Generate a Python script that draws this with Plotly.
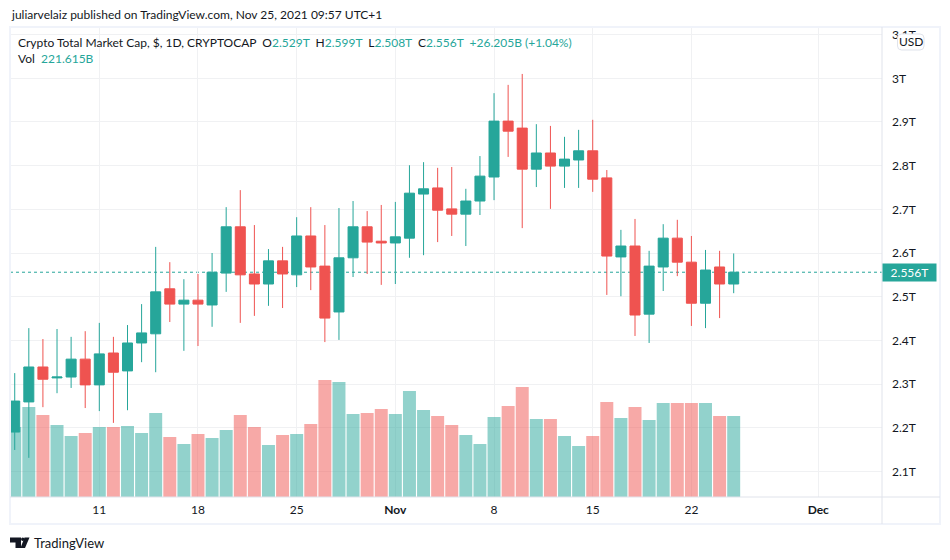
import pandas as pd
import plotly.graph_objects as go

# daily candles, Oct 5 - Nov 25 2021, in trillions USD
dates = pd.date_range("2021-10-05", "2021-11-25", freq="D")
opens = [2.190, 2.259, 2.339, 2.314, 2.316, 2.357, 2.298, 2.371, 2.330, 2.394, 2.415, 2.518, 2.483,
         2.492, 2.481, 2.554, 2.660, 2.552, 2.529, 2.582, 2.550, 2.639, 2.570, 2.465, 2.589, 2.660,
         2.627, 2.623, 2.634, 2.735, 2.749, 2.701, 2.689, 2.719, 2.774, 2.902, 2.886, 2.792, 2.829,
         2.799, 2.813, 2.834, 2.772, 2.591, 2.616, 2.460, 2.568, 2.634, 2.579, 2.485, 2.568, 2.529]
highs = [2.325, 2.428, 2.403, 2.426, 2.408, 2.421, 2.440, 2.408, 2.435, 2.483, 2.614, 2.579, 2.540,
         2.552, 2.600, 2.705, 2.744, 2.664, 2.609, 2.614, 2.682, 2.705, 2.664, 2.703, 2.719, 2.696,
         2.710, 2.717, 2.801, 2.808, 2.795, 2.797, 2.747, 2.822, 2.966, 2.985, 3.010, 2.895, 2.891,
         2.866, 2.882, 2.905, 2.790, 2.653, 2.678, 2.605, 2.666, 2.676, 2.639, 2.607, 2.605, 2.599]
lows = [2.149, 2.131, 2.247, 2.279, 2.291, 2.245, 2.238, 2.211, 2.240, 2.350, 2.327, 2.442, 2.376,
        2.387, 2.431, 2.511, 2.440, 2.456, 2.479, 2.474, 2.522, 2.515, 2.396, 2.401, 2.545, 2.552,
        2.527, 2.529, 2.589, 2.595, 2.625, 2.639, 2.616, 2.687, 2.721, 2.820, 2.657, 2.751, 2.701,
        2.749, 2.749, 2.740, 2.504, 2.501, 2.410, 2.394, 2.513, 2.547, 2.433, 2.428, 2.451, 2.508]
closes = [2.261, 2.339, 2.311, 2.316, 2.357, 2.298, 2.369, 2.327, 2.394, 2.417, 2.511, 2.483, 2.492,
          2.483, 2.556, 2.660, 2.550, 2.529, 2.582, 2.552, 2.639, 2.568, 2.451, 2.589, 2.660, 2.625,
          2.623, 2.637, 2.737, 2.747, 2.698, 2.689, 2.719, 2.776, 2.902, 2.879, 2.792, 2.829, 2.799,
          2.815, 2.834, 2.769, 2.593, 2.616, 2.458, 2.570, 2.634, 2.579, 2.485, 2.561, 2.529, 2.556]
volumes = [191.5, 246.2, 224.4, 197.0, 166.9, 175.1, 191.5, 191.5, 194.3, 175.1, 229.8, 164.2, 145.0,
           172.4, 161.4, 183.3, 224.4, 191.5, 142.3, 169.6, 172.4, 199.7, 320.1, 314.6, 227.1, 229.8,
           240.8, 227.1, 290.0, 238.0, 221.6, 197.0, 169.6, 145.0, 218.9, 249.0, 301.0, 213.4, 213.4,
           166.9, 139.5, 166.9, 259.9, 216.1, 246.2, 210.7, 257.2, 257.2, 257.2, 257.2, 221.6, 221.615]

price_ticks = [2.1, 2.2, 2.3, 2.4, 2.5, 2.6, 2.7, 2.8, 2.9, 3.0, 3.1]
price_labels = ["2.1T", "2.2T", "2.3T", "2.4T", "2.5T", "2.6T", "2.7T", "2.8T", "2.9T", "3T", "3.1T"]
date_ticks = ["2021-10-11", "2021-10-18", "2021-10-25", "2021-11-01", "2021-11-08", "2021-11-15",
              "2021-11-22", "2021-12-01"]
date_labels = ["11", "18", "25", "<b>Nov</b>", "8", "15", "22", "<b>Dec</b>"]

UP = "#26a69a"
DOWN = "#ef5350"
UP_VOL = "rgba(38,166,154,0.5)"
DOWN_VOL = "rgba(239,83,80,0.5)"
GRID = "#f0f1f3"
FRAME = "#f0f3fa"
EDGE = "#e0e3eb"
TEXT = "#131722"
FONT = "Lato"

# plot box in pixels of the 950x560 page
LEFT, RIGHT, TOP, BOTTOM = 10, 882, 27, 497


def px(x):
    return (x - LEFT) / (RIGHT - LEFT)


def py(y):
    return (BOTTOM - y) / (BOTTOM - TOP)


def round_box(x0, x1, y0, y1, r):
    # rounded rectangle path, pixel input
    return (
        f"M {px(x0 + r)} {py(y0)} L {px(x1 - r)} {py(y0)} Q {px(x1)} {py(y0)} {px(x1)} {py(y0 + r)} "
        f"L {px(x1)} {py(y1 - r)} Q {px(x1)} {py(y1)} {px(x1 - r)} {py(y1)} "
        f"L {px(x0 + r)} {py(y1)} Q {px(x0)} {py(y1)} {px(x0)} {py(y1 - r)} "
        f"L {px(x0)} {py(y0 + r)} Q {px(x0)} {py(y0)} {px(x0 + r)} {py(y0)} Z"
    )


vol_colors = [UP_VOL if c >= o else DOWN_VOL for o, c in zip(opens, closes)]

fig = go.Figure()

# volume on the base axis so the candles draw on top of it
fig.add_trace(go.Bar(x=dates, y=volumes, marker=dict(color=vol_colors, line_width=0), yaxis="y"))

fig.add_trace(go.Candlestick(
    x=dates, open=opens, high=highs, low=lows, close=closes, yaxis="y2",
    increasing=dict(line=dict(color=UP, width=1), fillcolor=UP),
    decreasing=dict(line=dict(color=DOWN, width=1), fillcolor=DOWN),
    whiskerwidth=0,
))

# header, legend and footer texts
val = lambda s: f'<span style="color:{UP}">{s}</span>'
nb = "\u00a0\u00a0"
legend_line = (
    "Crypto Total Market Cap, $, 1D, CRYPTOCAP" + nb
    + "O" + val(f"{opens[-1]:.3f}T") + nb
    + "H" + val(f"{highs[-1]:.3f}T") + nb
    + "L" + val(f"{lows[-1]:.3f}T") + nb
    + "C" + val(f"{closes[-1]:.3f}T") + nb
    + val("+26.205B (+1.04%)")
)
vol_line = "Vol" + nb + val(f"{volumes[-1]:.3f}B")


def note(x, y, text, size=12, **kw):
    return dict(x=px(x), y=py(y), xref="paper", yref="paper", text=text, showarrow=False,
                xanchor=kw.pop("xanchor", "left"), yanchor="middle",
                font=dict(family=FONT, size=size, color=kw.pop("color", TEXT)), **kw)


annotations = [
    note(8.5, 15, "juliarvelaiz published on TradingView.com, Nov 25, 2021 09:57 UTC+1"),
    note(16, 42, legend_line),
    note(16, 59, vol_line),
    note(910.75, 41.5, "USD", size=12, xanchor="center"),
    note(32, 543, "TradingView", size=13),
    dict(x=1, xref="paper", y=closes[-1], yref="y2", text=f"{closes[-1]:.3f}T", showarrow=False,
         xanchor="left", yanchor="middle", align="center", width=53, height=17, borderpad=0,
         bgcolor=UP, font=dict(family=FONT, size=12, color="white")),
]

shapes = [
    # last price line
    dict(type="line", xref="paper", x0=0, x1=1, yref="y2", y0=closes[-1], y1=closes[-1],
         line=dict(color=UP, width=1, dash="dot"), layer="below"),
    # chart frame and the axis separators
    dict(type="rect", xref="paper", yref="paper", x0=px(10), x1=px(940), y0=py(27), y1=py(524),
         line=dict(color=FRAME, width=2), layer="above"),
    dict(type="line", xref="paper", yref="paper", x0=1, x1=1, y0=py(27), y1=py(524),
         line=dict(color=EDGE, width=1), layer="above"),
    dict(type="line", xref="paper", yref="paper", x0=0, x1=px(940), y0=0, y1=0,
         line=dict(color=EDGE, width=1), layer="above"),
    # USD button
    dict(type="path", xref="paper", yref="paper", path=round_box(897.5, 924, 34, 50, 4),
         fillcolor="white", line=dict(color=EDGE, width=1), layer="above"),
    # TradingView logo
    dict(type="path", xref="paper", yref="paper", fillcolor=TEXT, line_width=0,
         path=f"M {px(10)} {py(537.5)} L {px(21)} {py(537.5)} L {px(21)} {py(548)} L {px(15.5)} {py(548)} "
              f"L {px(15.5)} {py(542.5)} L {px(10)} {py(542.5)} Z"),
    dict(type="circle", xref="paper", yref="paper", fillcolor=TEXT, line_width=0,
         x0=px(21), x1=px(24.5), y0=py(537.5), y1=py(541)),
    dict(type="path", xref="paper", yref="paper", fillcolor=TEXT, line_width=0,
         path=f"M {px(24.5)} {py(537.5)} L {px(29.5)} {py(537.5)} L {px(25)} {py(548)} L {px(20.5)} {py(548)} Z"),
]

day0 = pd.Timestamp("2021-10-11")
fig.update_layout(
    width=950, height=560,
    margin=dict(l=LEFT, r=950 - RIGHT, t=TOP, b=560 - BOTTOM, pad=0),
    paper_bgcolor="white", plot_bgcolor="white",
    showlegend=False, bargap=0.08, boxgap=0.29, boxgroupgap=0, hovermode=False,
    font=dict(family=FONT, size=12, color=TEXT),
    annotations=annotations, shapes=shapes,
    xaxis=dict(
        type="date", rangeslider_visible=False,
        range=[day0 - pd.Timedelta(days=6.335), day0 + pd.Timedelta(days=55.52)],
        tickvals=date_ticks, ticktext=date_labels, tickangle=0,
        showgrid=True, gridcolor=GRID, gridwidth=1, zeroline=False, showline=False,
        ticks="", ticklabelstandoff=4, tickfont=dict(family=FONT, size=12, color=TEXT),
    ),
    # hidden volume scale, only the bottom of the pane is used
    yaxis=dict(range=[0, 1286], visible=False, fixedrange=True),
    yaxis2=dict(
        overlaying="y", side="right", range=[2.0413, 3.1175], anchor="x",
        tickvals=price_ticks, ticktext=price_labels,
        showgrid=True, gridcolor=GRID, gridwidth=1, zeroline=False, showline=False,
        ticks="", ticklabelstandoff=9, tickfont=dict(family=FONT, size=12, color=TEXT),
    ),
)

# the page's default body margin would push the chart 8px off
fig.write_html("out.html", config={"displayModeBar": False},
               post_script="document.body.style.margin = '0';")
